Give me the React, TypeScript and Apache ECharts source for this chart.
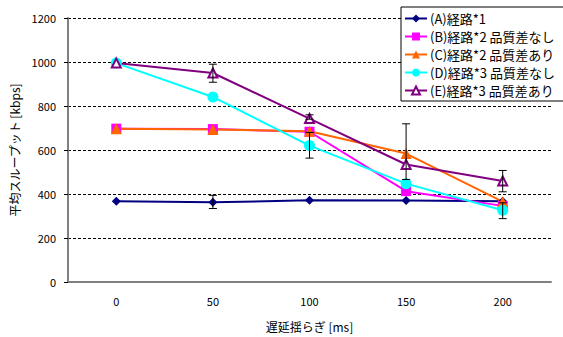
import React, { useEffect, useRef } from "react";
import * as echarts from "echarts";

const categories = ["0", "50", "100", "150", "200"];
const seriesNames = [
  "(A)経路*1",
  "(B)経路*2 品質差なし",
  "(C)経路*2 品質差あり",
  "(D)経路*3 品質差なし",
  "(E)経路*3 品質差あり",
];
const valuesA = [367, 362, 372, 370, 367];
const valuesB = [697, 695, 683, 413, 346];
const valuesC = [697, 693, 685, 584, 365];
const valuesD = [995, 841, 620, 447, 326];
const valuesE = [995, 950, 743, 534, 459];
// [category index, low, high]
const errorBars = [
  [1, 334, 394],
  [1, 908, 990],
  [2, 563, 680],
  [2, 740, 760],
  [3, 466, 719],
  [4, 410, 507],
  [4, 288, 360],
];

const FONT = "'Noto Sans CJK JP', 'Noto Sans', sans-serif";

export default function App() {
  const ref = useRef<HTMLDivElement>(null);
  useEffect(() => {
    const chart = echarts.init(ref.current!, null, { renderer: "svg" });
    const colors = ["#000080", "#FF00FF", "#FF6600", "#00FFFF", "#800080"];
    const symbols = ["diamond", "rect", "triangle", "circle", "emptyTriangle"];
    const sizes = [9, 10, 11, 11, 9];
    const data = [valuesA, valuesB, valuesC, valuesD, valuesE];
    const lineSeries = data.map((vals, i) => ({
      name: seriesNames[i],
      type: "line",
      data: vals,
      symbol: symbols[i],
      symbolSize: sizes[i],
      showAllSymbol: true,
      color: colors[i],
      lineStyle: { color: colors[i], width: 2 },
      itemStyle: {
        color: colors[i],
        borderColor: colors[i],
        borderWidth: i === 4 ? 1 : 0,
      },
      z: 3,
    }));
    chart.setOption({
      animation: false,
      textStyle: { fontFamily: FONT },
      grid: { left: 68, right: 12, top: 18, bottom: 54 },
      legend: {
        orient: "vertical",
        left: 401,
        top: 7,
        width: 160,
        padding: [5, 10, 4, 3],
        itemGap: 5,
        itemWidth: 22,
        itemHeight: 10,
        backgroundColor: "#ffffff",
        borderColor: "#000000",
        borderWidth: 1,
        borderRadius: 0,
        textStyle: { fontSize: 13, color: "#000", fontFamily: FONT, padding: [0, 0, 0, -2] },
        data: seriesNames,
      },
      xAxis: {
        type: "category",
        data: categories,
        boundaryGap: true,
        name: "遅延揺らぎ [ms]",
        nameLocation: "middle",
        nameGap: 38,
        nameTextStyle: { fontSize: 12, color: "#000", fontFamily: FONT },
        axisLine: { lineStyle: { color: "#808080", width: 2 } },
        axisTick: { inside: true, length: 5, lineStyle: { color: "#000", width: 1 } },
        axisLabel: { color: "#000", fontSize: 11, margin: 14, fontFamily: FONT },
        splitLine: { show: false },
      },
      yAxis: {
        type: "value",
        min: 0,
        max: 1200,
        interval: 200,
        name: "平均スループット [kbps]",
        nameLocation: "middle",
        nameGap: 44,
        nameRotate: 90,
        nameTextStyle: { fontSize: 12, color: "#000", fontFamily: FONT },
        axisLine: { show: true, lineStyle: { color: "#808080", width: 2 } },
        axisTick: { show: true, length: 4, lineStyle: { color: "#000" } },
        axisLabel: { color: "#000", fontSize: 11, margin: 12, fontFamily: FONT, formatter: (v: number) => String(v) },
        splitLine: { lineStyle: { color: "#000", type: [3, 2], width: 1 } },
      },
      series: [
        ...lineSeries,
        {
          name: "err",
          type: "custom",
          data: errorBars,
          z: 4,
          renderItem: (params: any, api: any) => {
            const x = api.value(0);
            const lo = api.coord([x, api.value(1)]);
            const hi = api.coord([x, api.value(2)]);
            const cx = lo[0];
            const w = 4;
            const style = { stroke: "#000", lineWidth: 1 };
            return {
              type: "group",
              children: [
                { type: "line", shape: { x1: cx, y1: lo[1], x2: cx, y2: hi[1] }, style },
                { type: "line", shape: { x1: cx - w, y1: lo[1], x2: cx + w, y2: lo[1] }, style },
                { type: "line", shape: { x1: cx - w, y1: hi[1], x2: cx + w, y2: hi[1] }, style },
              ],
            };
          },
        },
      ],
    });
    return () => chart.dispose();
  }, []);
  return <div ref={ref} style={{ width: 563, height: 337, position: "absolute", left: 0, top: 0, background: "#fff" }} />;
}
